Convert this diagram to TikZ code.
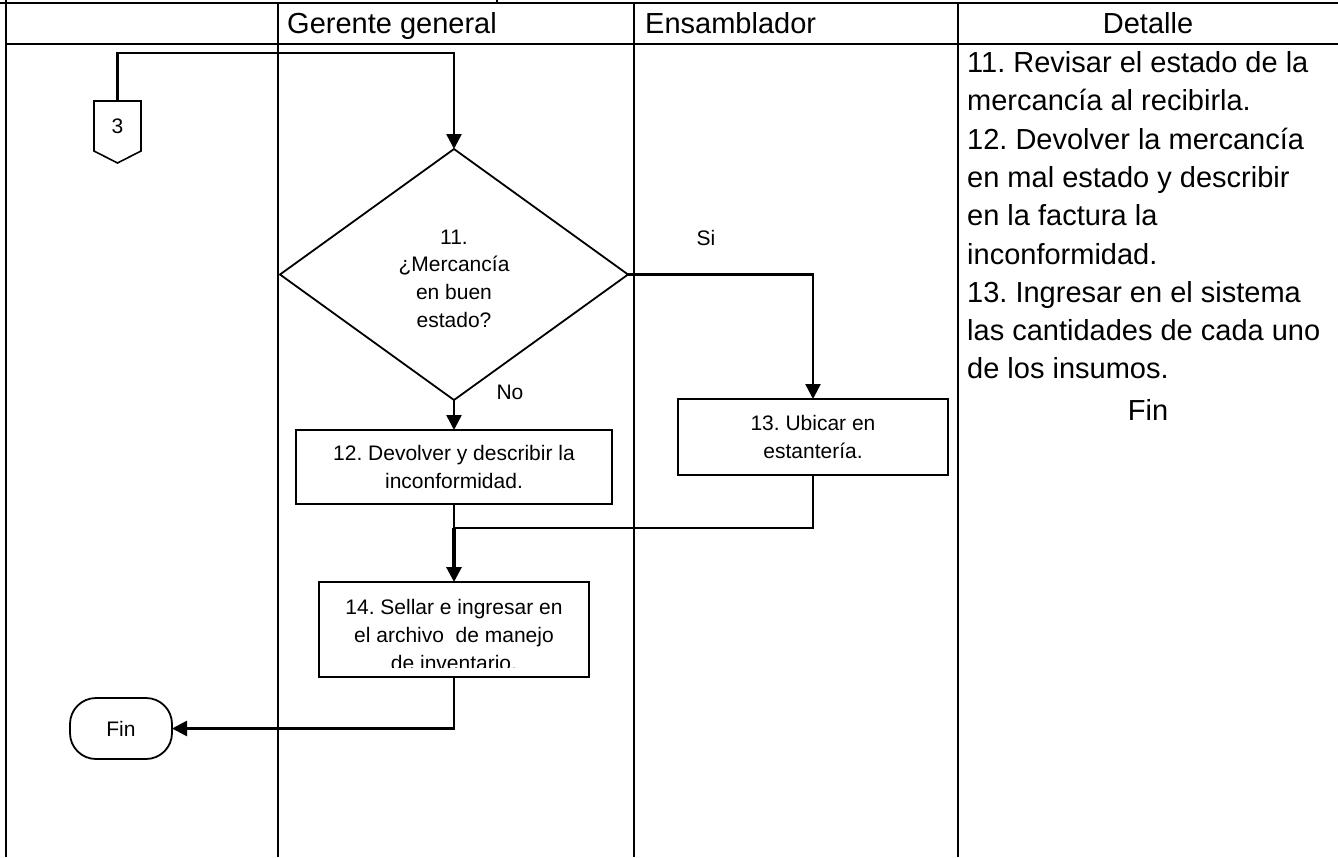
\documentclass[tikz,border=0pt]{standalone}
\usepackage{fontspec}
\setmainfont{Liberation Sans}
\usetikzlibrary{arrows.meta,shapes.geometric,calc}
\frenchspacing
\begin{document}
\begin{tikzpicture}[x=1pt,y=-1pt,
  grid/.style={line width=2.8pt},
  flow/.style={line width=2.5pt},
  arr/.style={flow,-{Triangle[length=15pt,width=15pt]}},
  procbox/.style={draw,line width=2pt,rectangle,inner sep=0pt,outer sep=0pt,
    align=center,font=\fontsize{21}{28}\selectfont},
  lbl/.style={inner sep=0pt,outer sep=0pt,font=\fontsize{21}{25}\selectfont},
  head/.style={inner sep=0pt,font=\fontsize{29}{36}\selectfont},
  detail/.style={inner sep=0pt,anchor=base west,font=\fontsize{29}{36}\selectfont},
]
\useasboundingbox (0,0) rectangle (1338,857);

% table frame
\draw[grid] (0,3) -- (1338,3);
\draw[grid] (497,0) -- (497,3);
\draw[grid] (6,44) -- (1338,44);
\draw[grid] (6,0) -- (6,857);
\draw[grid] (278,3) -- (278,857);
\draw[grid] (634,3) -- (634,857);
\draw[grid] (958,3) -- (958,857);

% column headers
\node[head,anchor=base west] (hgerente) at (287,33) {Gerente general};
\node[head,anchor=base west] (hensam) at (645,33) {Ensamblador};
\node[head,anchor=base] (hdetalle) at (1148,33) {Detalle};

% off-page connector 3
\node[lbl,minimum width=47pt,minimum height=50pt] (c3) at (117.5,126) {3};
\draw[line width=1.6pt] (c3.north west) -- (c3.north east) -- (c3.south east)
  -- ($(c3.south)+(0,12)$) -- (c3.south west) -- cycle;

% decision 11
\node[draw,diamond,line width=1.8pt,minimum width=348pt,minimum height=251pt,
  inner sep=0pt,outer sep=0pt] (d) at (454,274.5) {};
\node[inner sep=0pt,align=center,font=\fontsize{21}{27.7}\selectfont] (dq)
  at (454,278.5) {11.\\¿Mercancía\\en buen\\estado?};

% process boxes
\node[procbox,minimum width=316pt,minimum height=74pt] (b12) at (454,467)
  {12. Devolver y describir la\\inconformidad.};
\node[procbox,minimum width=270pt,minimum height=76pt] (b13) at (813,437)
  {13. Ubicar en\\estantería.};
\begin{scope}
  \clip (454-135,582) rectangle (454+135,667);
  \node[procbox,draw=none] (b14t) at (454,634.5)
    {14. Sellar e ingresar en\\el archivo\ \ de manejo\\de inventario.};
\end{scope}
\node[procbox,minimum width=270pt,minimum height=95pt] (b14) at (454,629.5) {};

% terminator
\node[draw,rounded corners=26pt,line width=1.8pt,minimum width=102pt,
  minimum height=61pt,lbl] (fin) at (121,728.5) {Fin};

% branch labels
\node[lbl] (si) at (706,238) {Si};
\node[lbl] (no) at (510,392) {No};

% connectors
\draw[arr] (c3.north) -- ++(0,-48) -| (d.north);
\draw[arr] (d.east) -| (b13.north);
\draw[arr] (d.south) -- (b12.north);
\coordinate (m) at (454,528);
\draw[flow] (b12.south) -- (m);
\draw[flow] (b13.south) |- (m);
\draw[arr,line width=3.1pt] (m) -- (b14.north);
\draw[arr] (b14.south) |- (fin.east);

% detail column
\foreach \t [count=\i from 0] in {
  {11. Revisar el estado de la},
  {mercancía al recibirla.},
  {12. Devolver la mercancía},
  {en mal estado y describir},
  {en la factura la},
  {inconformidad.},
  {13. Ingresar en el sistema},
  {las cantidades de cada uno},
  {de los insumos.}}
  \node[detail] (det\i) at (967,{72.5+38.3*\i}) {\t};
\node[head,anchor=base] (detfin) at (1148,420) {Fin};
\end{tikzpicture}
\end{document}
